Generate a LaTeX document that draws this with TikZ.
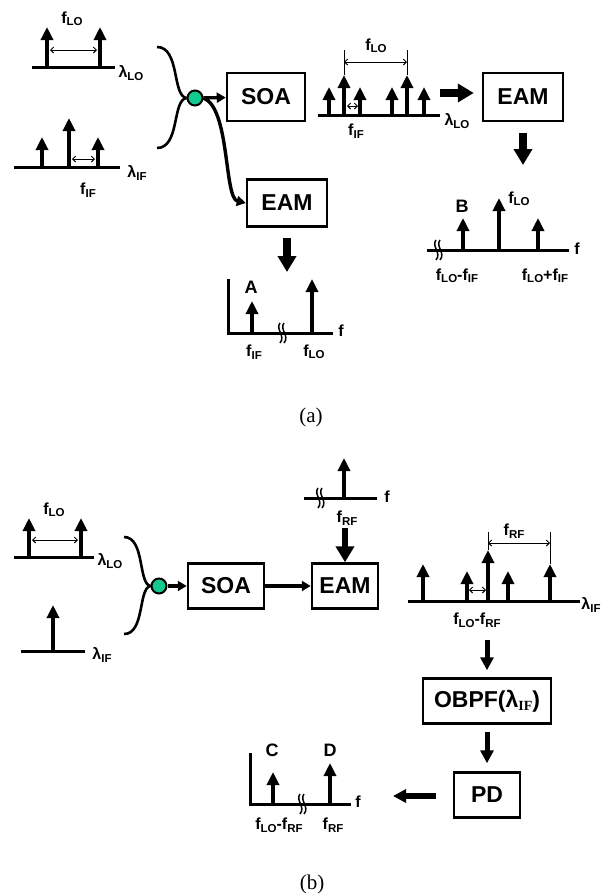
\documentclass[tikz,border=0pt]{standalone}
\usepackage{fontspec}
\setmainfont{Liberation Sans}
\newfontfamily\capfont{Liberation Serif}
\usetikzlibrary{arrows.meta}
\definecolor{MixGreen}{HTML}{12C990}
\newcommand{\fsub}[2]{#1\raisebox{-2.5pt}{\fontsize{11.5}{12}\selectfont #2}}

\tikzset{
  brk/.pic={
    \draw[line width=1.5pt] (-2,-10) .. controls (-7,-4) and (4,3) .. (-2,10);
    \draw[line width=1.5pt] (2,-10) .. controls (-3,-4) and (8,3) .. (2,10);
  }
}

\begin{document}
\begin{tikzpicture}[x=1pt,y=-1pt,line width=2.6pt,font=\bfseries\fontsize{16}{18}\selectfont,
  box/.style={draw,line width=2.5pt,inner sep=0pt,font=\bfseries\fontsize{23}{26}\selectfont},
  axis/.style={line width=3pt},
  peak/.style={line width=4.5pt,-{Triangle[length=13pt,width=12pt]}},
  dim/.style={line width=0.9pt,{Straight Barb[length=3pt,width=6pt]}-{Straight Barb[length=3pt,width=6pt]}},
  tick/.style={line width=0.9pt},
  feed/.style={line width=3.4pt,-{Triangle[length=9pt,width=10pt]}},
  fat/.style={line width=8pt,-{Triangle[length=16pt,width=18pt]}},
  mid/.style={line width=5pt,-{Triangle[length=13pt,width=13pt]}},
  mix/.style={circle,draw,line width=2pt,fill=MixGreen,minimum size=15pt,inner sep=0pt}]
  \useasboundingbox (0,0) rectangle (604,895);

  \begin{scope}
    \draw[axis] (32,67) -- (115,67);
    \foreach \x in {47,100} \draw[peak] (\x,67) -- (\x,27);
    \draw[dim] (50,50) -- (97,50);
    \node (aflo) at (72,19) {\fsub{f}{LO}};
    \node (allo) at (131,73) {\fsub{λ}{LO}};

    \draw[axis] (14,167) -- (120,167);
    \foreach \x/\t in {42/137,69/118,98/137} \draw[peak] (\x,167) -- (\x,\t);
    \draw[dim] (72,159) -- (95,159);
    \node (afif) at (88,190) {\fsub{f}{IF}};
    \node (alif) at (137,173) {\fsub{λ}{IF}};

    \node[mix] (mixa) at (195,98) {};
    \coordinate (ina1) at (157,47);
    \coordinate (ina2) at (157,148);
    \draw (ina1) .. controls (180,47) and (172,96) .. (mixa.west);
    \draw (ina2) .. controls (180,148) and (172,100) .. (mixa.west);
    \node[box,minimum width=78pt,minimum height=48pt] (soaa) at (266,97) {SOA};
    \draw[feed] (mixa) -- (soaa);
    \node[box,minimum width=80pt,minimum height=47pt] (eama) at (287,203) {EAM};
    \draw[feed] (mixa.east) .. controls (230,108) and (224,198) .. (eama.west);

    \coordinate (spa) at (287,272);
    \draw[fat] ([yshift=-10pt]eama.south) -- (spa);
    \draw[axis] (228,279) -- (228,333) -- (333,333);
    \draw[peak] (252,333) -- (252,301);
    \draw[peak] (312,333) -- (312,279);
    \pic at (282,333) {brk};
    \node (aa) at (251,287) {\fontsize{18}{20}\selectfont A};
    \node (af1) at (341,331) {\fontsize{16}{18}\selectfont f};
    \node (afif3) at (254,352) {\fsub{f}{IF}};
    \node (aflo4) at (314,352) {\fsub{f}{LO}};

    \draw[axis] (318,115) -- (440,115);
    \foreach \x/\t in {329/87,344/75,360/87,392/87,407/75,424/87} \draw[peak] (\x,115) -- (\x,\t);
    \draw[tick] (344,50) -- (344,75) (407,50) -- (407,75);
    \draw[dim] (344,62) -- (407,62);
    \draw[dim] (347,106) -- (358,106);
    \node (aflo2) at (376,46) {\fsub{f}{LO}};
    \node (afif2) at (356,131) {\fsub{f}{IF}};
    \node (allo2) at (457,121) {\fsub{λ}{LO}};
    \node[box,minimum width=80pt,minimum height=48pt] (eamc) at (523,97) {EAM};
    \coordinate (mixr) at (440,93);
    \draw[fat,shorten >=8pt] (mixr) -- (mixr -| eamc.west);

    \coordinate (spb) at (523,165);
    \draw[fat] ([yshift=-11pt]eamc.south) -- (spb);
    \draw[axis] (427,250) -- (569,250);
    \pic at (438,250) {brk};
    \foreach \x/\t in {463/218,499/198,538/218} \draw[peak] (\x,250) -- (\x,\t);
    \node (ab) at (462,206) {\fontsize{18}{20}\selectfont B};
    \node (aflo3) at (519,199) {\fsub{f}{LO}};
    \node (af2) at (577,249) {\fontsize{16}{18}\selectfont f};
    \node (adiff) at (457,276) {\fsub{f}{LO}-\fsub{f}{IF}};
    \node (asum) at (545,276) {\fsub{f}{LO}+\fsub{f}{IF}};
    \node[font=\capfont\fontsize{21}{24}\selectfont] (capa) at (311,417) {(a)};
  \end{scope}

  \begin{scope}
    \draw[axis] (14,557) -- (94,557);
    \foreach \x in {29,81} \draw[peak] (\x,557) -- (\x,518);
    \draw[dim] (32,540) -- (78,540);
    \node (bflo) at (54,510) {\fsub{f}{LO}};
    \node (bllo) at (110,561) {\fsub{λ}{LO}};
    \draw[axis] (21,651) -- (85,651);
    \draw[peak] (53,651) -- (53,605);
    \node (blif) at (102,655) {\fsub{λ}{IF}};

    \node[mix] (mixb) at (159,586) {};
    \coordinate (inb1) at (124,537);
    \coordinate (inb2) at (124,634);
    \draw (inb1) .. controls (145,537) and (138,584) .. (mixb.west);
    \draw (inb2) .. controls (145,634) and (138,588) .. (mixb.west);
    \node[box,minimum width=76pt,minimum height=45pt] (soab) at (226,586) {SOA};
    \draw[feed] (mixb) -- (soab);
    \node[box,minimum width=66pt,minimum height=45pt] (eamb) at (345,586) {EAM};
    \draw[feed] (soab) -- (eamb);

    \draw[axis] (304,498) -- (377,498);
    \pic at (320,498) {brk};
    \draw[peak] (344,498) -- (344,458);
    \node (bf1) at (387,497) {\fontsize{16}{18}\selectfont f};
    \node (bfrf) at (347,518) {\fsub{f}{RF}};
    \coordinate (rfdn) at (345,528);
    \draw[fat,line width=6pt] (rfdn) -- (eamb.north);

    \draw[axis] (408,601) -- (580,601);
    \foreach \x/\t in {423/564,467/571,488/550,508/571,550/564} \draw[peak] (\x,601) -- (\x,\t);
    \draw[tick] (488,532) -- (488,550) (550,532) -- (550,564);
    \draw[dim] (488,543) -- (550,543);
    \draw[dim] (469,590) -- (486,590);
    \node (bfrf2) at (514,531) {\fsub{f}{RF}};
    \node (bdiff) at (477,620) {\fsub{f}{LO}-\fsub{f}{RF}};
    \node (blif2) at (591,605) {\fsub{λ}{IF}};

    \coordinate (ifdn) at (487,640);
    \node[box,minimum width=128pt,minimum height=45pt] (obpf) at (487,701) {OBPF(λ\raisebox{-3pt}{\capfont\fontsize{14}{14}\selectfont IF})};
    \draw[mid,shorten >=7pt] (ifdn) -- (obpf.north);
    \node[box,minimum width=66pt,minimum height=45pt] (pd) at (487,795) {PD};
    \draw[mid,shorten <=7pt,shorten >=8pt] (obpf.south) -- (pd.north);
    \coordinate (cdr) at (393,796);
    \draw[mid,line width=6pt,shorten <=17pt] (pd.west |- cdr) -- (cdr);

    \draw[axis] (250,753) -- (250,804) -- (351,804);
    \pic at (302,804) {brk};
    \draw[peak] (273,804) -- (273,772);
    \draw[peak] (330,804) -- (330,763);
    \node (bc) at (272,750) {\fontsize{18}{20}\selectfont C};
    \node (bd) at (330,750) {\fontsize{18}{20}\selectfont D};
    \node (bf2) at (358,802) {\fontsize{16}{18}\selectfont f};
    \node (bdiff2) at (279,825) {\fsub{f}{LO}-\fsub{f}{RF}};
    \node (bfrf3) at (333,825) {\fsub{f}{RF}};
    \node[font=\capfont\fontsize{21}{24}\selectfont] (capb) at (312,884) {(b)};
  \end{scope}
\end{tikzpicture}
\end{document}
